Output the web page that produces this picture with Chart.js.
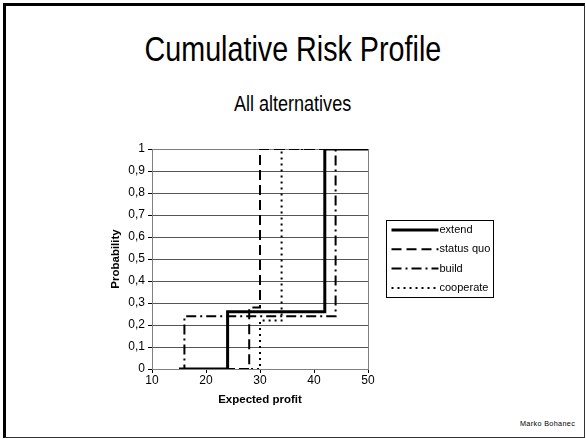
<!DOCTYPE html>
<html lang="en">
<head>
  <meta charset="UTF-8">
  <title>Cumulative Risk Profile</title>
  <script src="https://cdn.jsdelivr.net/npm/chart.js"></script>
  <style>
    html, body { margin: 0; padding: 0; background: #fff; }
    body { width: 586px; height: 439px; position: relative; overflow: hidden; font-family: "Liberation Sans", Arial, sans-serif; }
    .frame { position: absolute; left: 3px; top: 3px; width: 578px; height: 431px;
             border-left: 3px solid #000; border-top: 3px solid #000;
             border-right: 1px solid #333; border-bottom: 1px solid #333; }
    .title { position: absolute; left: 0; width: 586px; text-align: center; color: #000; white-space: nowrap; }
    .title span { display: inline-block; transform: scaleX(0.82); }
    #mainTitle { top: 29px; font-size: 35px; }
    #subTitle { top: 91px; font-size: 22px; }
    #author { position: absolute; left: 520px; top: 419px; font-size: 8px; letter-spacing: 0.4px; color: #000; transform: scaleX(0.9); transform-origin: left; }
    canvas { position: absolute; left: 0; top: 0; }
  </style>
</head>
<body>
  <div class="frame"></div>
  <div class="title" id="mainTitle"><span>Cumulative Risk Profile</span></div>
  <div class="title" id="subTitle"><span>All alternatives</span></div>
  <div id="author">Marko Bohanec</div>
  <canvas id="riskChart" width="586" height="439"></canvas>

  <script>
    // step points of the cumulative profiles (expected profit, probability)
    const seriesNames = ['extend', 'status quo', 'build', 'cooperate'];
    const extendX = [15, 24, 24, 42, 42, 50];
    const extendY = [0, 0, 0.26, 0.26, 1, 1];
    const statusQuoX = [15, 28, 28, 30, 30, 50];
    const statusQuoY = [0, 0, 0.28, 0.28, 1, 1];
    const buildX = [15, 16, 16, 44, 44, 50];
    const buildY = [0, 0, 0.24, 0.24, 1, 1];
    const cooperateX = [15, 30, 30, 34, 34, 50];
    const cooperateY = [0, 0, 0.22, 0.22, 1, 1];
    const xRange = [10, 50];
    const yRange = [0, 1];

    function toPoints(xs, ys) {
      return xs.map((x, i) => ({ x: x, y: ys[i] }));
    }

    function lineSet(label, xs, ys, width, dash) {
      return {
        label: label,
        data: toPoints(xs, ys),
        showLine: true,
        borderColor: '#000',
        backgroundColor: '#000',
        borderWidth: width,
        borderDash: dash,
        pointRadius: 0,
        tension: 0,
        fill: false
      };
    }

    // plot area border + boxed legend like the spreadsheet original
    const plotFrame = {
      id: 'plotFrame',
      beforeDatasetsDraw(chart) {
        const a = chart.chartArea, ctx = chart.ctx;
        ctx.save();
        ctx.strokeStyle = '#808080';
        ctx.lineWidth = 1;
        ctx.strokeRect(a.left + 0.5, a.top + 0.5, a.right - a.left, a.bottom - a.top);
        ctx.restore();
      },
      afterDraw(chart) {
        const a = chart.chartArea, ctx = chart.ctx;
        const bx = Math.round(a.right) + 18.5, by = 220.5, bw = 107, bh = 77;
        ctx.save();
        ctx.fillStyle = '#fff';
        ctx.fillRect(bx, by, bw, bh);
        ctx.strokeStyle = '#000';
        ctx.lineWidth = 1;
        ctx.strokeRect(bx, by, bw, bh);
        ctx.font = '11px "Liberation Sans", Arial, sans-serif';
        ctx.textBaseline = 'middle';
        ctx.fillStyle = '#000';
        chart.data.datasets.forEach((ds, i) => {
          const y = by + 9.5 + i * 19.3;
          ctx.beginPath();
          ctx.lineWidth = ds.borderWidth;
          ctx.setLineDash(ds.borderDash);
          ctx.moveTo(bx + 5, y);
          ctx.lineTo(bx + 52, y);
          ctx.stroke();
          ctx.setLineDash([]);
          ctx.fillText(ds.label, bx + 53, y);
        });
        ctx.restore();
      }
    };

    new Chart(document.getElementById('riskChart'), {
      type: 'scatter',
      data: {
        datasets: [
          lineSet(seriesNames[0], extendX, extendY, 3, []),
          lineSet(seriesNames[1], statusQuoX, statusQuoY, 2, [10, 5]),
          lineSet(seriesNames[2], buildX, buildY, 2, [10, 4, 2, 4]),
          lineSet(seriesNames[3], cooperateX, cooperateY, 2, [2, 4])
        ]
      },
      options: {
        responsive: false,
        animation: false,
        layout: { padding: { left: 109, right: 218, top: 149, bottom: 32 } },
        plugins: {
          legend: { display: false },
          tooltip: { enabled: false }
        },
        scales: {
          x: {
            type: 'linear',
            min: xRange[0],
            max: xRange[1],
            afterFit(scale) { scale.height = 38; },
            ticks: {
              stepSize: 10,
              padding: 0,
              color: '#000',
              font: { family: '"Liberation Sans", Arial, sans-serif', size: 12 }
            },
            grid: { drawOnChartArea: false, drawTicks: true, tickLength: 4, color: '#000' },
            border: { color: '#000', width: 1 },
            title: {
              display: true,
              text: 'Expected profit',
              color: '#000',
              padding: 0,
              font: { family: '"Liberation Sans", Arial, sans-serif', size: 11.5, weight: 'bold' }
            }
          },
          y: {
            min: yRange[0],
            max: yRange[1],
            afterFit(scale) { scale.width = 43; },
            ticks: {
              stepSize: 0.1,
              padding: 3,
              color: '#000',
              font: { family: '"Liberation Sans", Arial, sans-serif', size: 12 },
              callback: (v) => {
                const r = Math.round(v * 10) / 10;
                return (r === 0 || r === 1) ? String(r) : r.toFixed(1).replace('.', ',');
              }
            },
            grid: { color: '#555', tickColor: '#000', tickLength: 4 },
            border: { color: '#000', width: 1 },
            title: {
              display: true,
              text: 'Probability',
              color: '#000',
              padding: 0,
              font: { family: '"Liberation Sans", Arial, sans-serif', size: 11.5, weight: 'bold' }
            }
          }
        }
      },
      plugins: [plotFrame]
    });
  </script>
</body>
</html>
